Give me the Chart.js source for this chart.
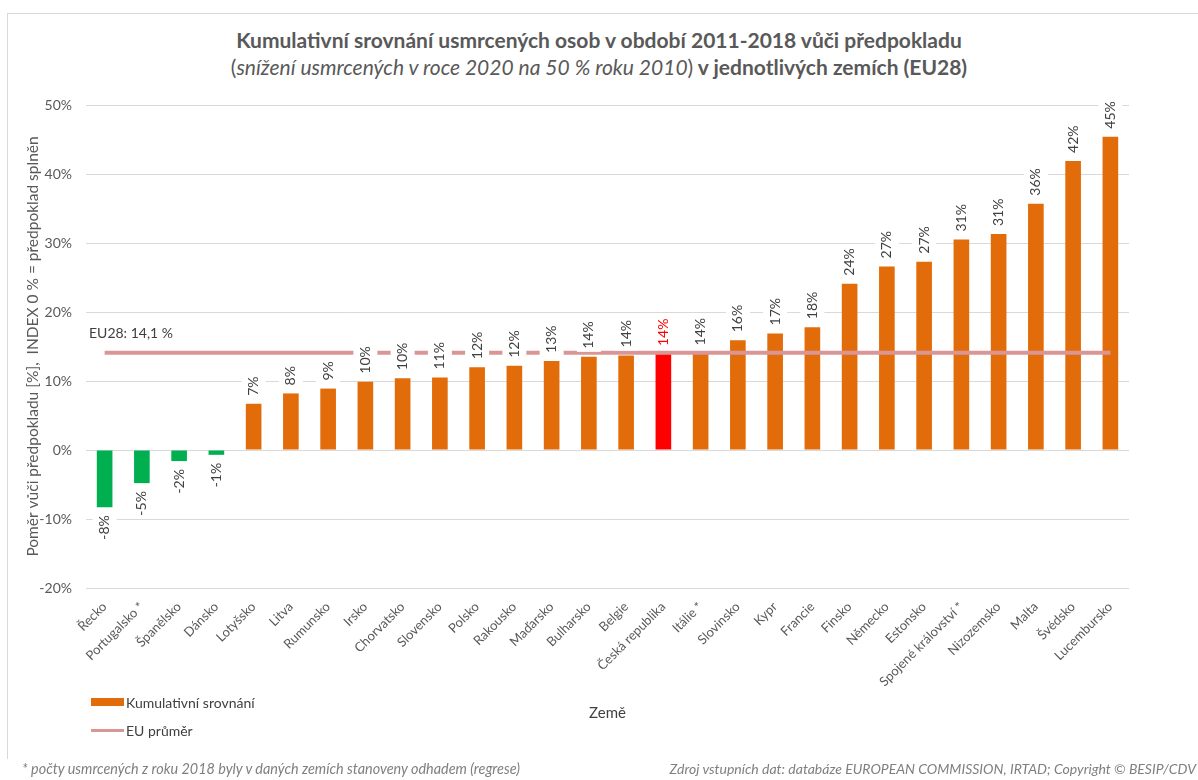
<!DOCTYPE html>
<html lang="cs">
<head>
  <meta charset="UTF-8" />
  <title>Kumulativní srovnání usmrcených osob 2011-2018</title>
  <script src="https://cdn.jsdelivr.net/npm/chart.js"></script>
  <style>
    body {
      margin: 0;
      background: #fff;
      font-family: Lato, 'Open Sans', sans-serif;
      color: #595959;
    }

    .page {
      position: relative;
      width: 1198px;
      height: 780px;
      overflow: hidden;
    }

    .frame {
      position: absolute;
      left: 7px;
      top: 13px;
      width: 1200px;
      height: 745px;
      border-left: 1px solid #d9d9d9;
      border-top: 1px solid #d9d9d9;
    }

    canvas {
      position: absolute;
      left: 0;
      top: 0;
    }

    .title {
      position: absolute;
      left: 0;
      width: 1198px;
      text-align: center;
      font-size: 21px;
      color: #595959;
      white-space: nowrap;
    }

    .title b { font-weight: 700; }

    .legend {
      position: absolute;
      left: 91px;
      top: 693px;
      font-size: 14px;
      color: #404040;
    }

    .legend .item {
      display: flex;
      align-items: center;
      height: 18px;
      margin-bottom: 10px;
    }

    .legend .sw {
      display: inline-block;
      width: 33px;
      margin-right: 2px;
    }

    .footer {
      position: absolute;
      top: 760px;
      font-size: 14.4px;
      font-style: italic;
      color: #7f7f7f;
      white-space: nowrap;
    }
  </style>
</head>
<body>
  <div class="page">
    <div class="frame"></div>
    <div class="title" style="top:27px"><b>Kumulativní srovnání usmrcených osob v období 2011-2018 vůči předpokladu</b></div>
    <div class="title" style="top:54px">(<i>snížení usmrcených v roce 2020 na 50 % roku 2010</i>)<b> v jednotlivých zemích (EU28)</b></div>
    <canvas id="chart" width="1198" height="780"></canvas>
    <div class="legend" id="legend"></div>
    <div class="footer" style="left:22px">* počty usmrcených z roku 2018 byly v daných zemích stanoveny odhadem (regrese)</div>
    <div class="footer" style="right:2px; font-size:14px">Zdroj vstupních dat: databáze EUROPEAN COMMISSION, IRTAD; Copyright © BESIP/CDV</div>
  </div>

  <script>
    const categories = ['Řecko', 'Portugalsko *', 'Španělsko', 'Dánsko', 'Lotyšsko', 'Litva', 'Rumunsko',
      'Irsko', 'Chorvatsko', 'Slovensko', 'Polsko', 'Rakousko', 'Maďarsko', 'Bulharsko', 'Belgie',
      'Česká republika', 'Itálie *', 'Slovinsko', 'Kypr', 'Francie', 'Finsko', 'Německo', 'Estonsko',
      'Spojené království *', 'Nizozemsko', 'Malta', 'Švédsko', 'Lucembursko'];

    const cumulative = [-8.3, -4.8, -1.6, -0.7, 6.7, 8.2, 8.9, 9.9, 10.4, 10.5, 12.0, 12.2, 12.9, 13.5,
      13.7, 13.9, 14.0, 15.9, 16.9, 17.8, 24.1, 26.6, 27.3, 30.5, 31.3, 35.7, 41.9, 45.4];

    const euAverage = [14.1, 14.1, 14.1, 14.1, 14.1, 14.1, 14.1, 14.1, 14.1, 14.1, 14.1, 14.1, 14.1, 14.1,
      14.1, 14.1, 14.1, 14.1, 14.1, 14.1, 14.1, 14.1, 14.1, 14.1, 14.1, 14.1, 14.1, 14.1];

    const yTicks = [-20, -10, 0, 10, 20, 30, 40, 50];

    const highlight = 'Česká republika';

    // popisky nad sloupci (bílé pozadí, otočené o 90°) + popisek průměru EU
    const barLabels = {
      id: 'barLabels',
      afterDatasetsDraw(chart) {
        const ctx = chart.ctx;
        const meta = chart.getDatasetMeta(0);
        ctx.save();
        ctx.font = '14px Lato';
        ctx.textBaseline = 'middle';
        ctx.textAlign = 'left';
        meta.data.forEach((bar, i) => {
          const v = cumulative[i];
          const txt = Math.round(v) + '%';
          const w = ctx.measureText(txt).width;
          const start = v >= 0 ? 8 : -8 - w;
          ctx.save();
          ctx.translate(bar.x, bar.y);
          ctx.rotate(-Math.PI / 2);
          ctx.fillStyle = '#fff';
          ctx.fillRect(start - 3, -12, w + 6, 24);
          ctx.fillStyle = categories[i] === highlight ? '#ff0000' : '#404040';
          ctx.fillText(txt, start, 0);
          ctx.restore();
        });

        const y = chart.scales.y.getPixelForValue(euAverage[0]);
        ctx.font = '14px Lato';
        ctx.fillStyle = '#404040';
        ctx.fillText('EU28: ' + euAverage[0].toFixed(1).replace('.', ',') + ' %', chart.chartArea.left + 3, y - 19);
        ctx.restore();
      }
    };

    const chart = new Chart(document.getElementById('chart'), {
      type: 'bar',
      data: {
        labels: categories,
        datasets: [
          {
            type: 'bar',
            label: 'Kumulativní srovnání',
            data: cumulative,
            backgroundColor: ctx => {
              if (ctx.raw < 0) return '#00b050';
              if (categories[ctx.dataIndex] === highlight) return '#ff0000';
              return '#e36c0a';
            },
            barPercentage: 0.42,
            categoryPercentage: 1,
            order: 2
          },
          {
            type: 'line',
            label: 'EU průměr',
            data: euAverage,
            borderColor: '#d99694',
            borderWidth: 4,
            pointRadius: 0,
            fill: false,
            order: 1
          }
        ]
      },
      options: {
        responsive: false,
        animation: false,
        layout: {
          padding: { top: 105, right: 69, bottom: 58, left: 0 }
        },
        plugins: {
          legend: { display: false },
          tooltip: { enabled: false }
        },
        scales: {
          x: {
            grid: { display: false },
            border: { display: false },
            ticks: {
              autoSkip: false,
              maxRotation: 45,
              minRotation: 45,
              padding: 3,
              color: '#595959',
              font: { family: 'Lato', size: 13 }
            },
            title: {
              display: true,
              text: 'Země',
              color: '#404040',
              font: { family: 'Lato', size: 15 },
              padding: { top: 0, bottom: 0 }
            },
            afterFit: scale => { scale.height = 134; }
          },
          y: {
            min: yTicks[0],
            max: yTicks[yTicks.length - 1],
            afterBuildTicks: scale => { scale.ticks = yTicks.map(v => ({ value: v })); },
            grid: { color: '#d9d9d9', drawTicks: false },
            border: { display: false },
            ticks: {
              padding: 14,
              color: '#595959',
              font: { family: 'Lato', size: 14 },
              callback: v => v + '%'
            },
            title: {
              display: true,
              text: 'Poměr vůči předpokladu [%],  INDEX 0 % = předpoklad splněn',
              color: '#595959',
              font: { family: 'Lato', size: 15.5 },
              padding: { top: 24, bottom: 0 }
            },
            afterFit: scale => { scale.width = 86; }
          }
        }
      },
      plugins: [barLabels]
    });

    // legenda pod grafem
    const legend = document.getElementById('legend');
    chart.data.datasets.forEach(ds => {
      const item = document.createElement('div');
      item.className = 'item';
      const sw = document.createElement('span');
      sw.className = 'sw';
      if (ds.type === 'line') {
        sw.style.height = '3px';
        sw.style.background = ds.borderColor;
      } else {
        sw.style.height = '8px';
        sw.style.background = '#e36c0a';
      }
      item.appendChild(sw);
      item.appendChild(document.createTextNode(ds.label));
      legend.appendChild(item);
    });
  </script>
</body>
</html>
